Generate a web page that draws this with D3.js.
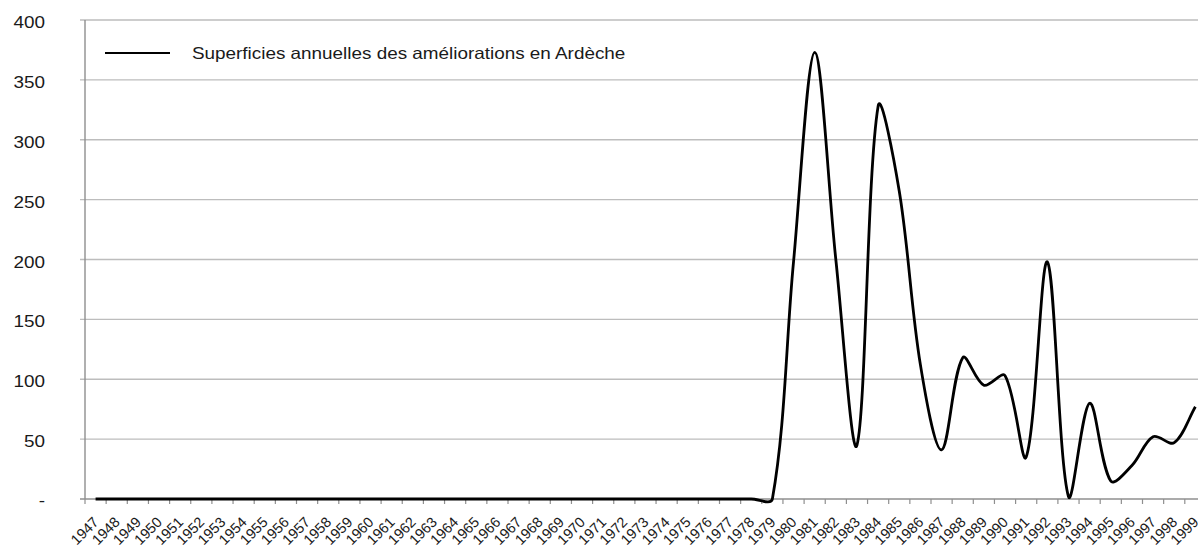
<!DOCTYPE html>
<html>
<head>
<meta charset="utf-8">
<script src="https://cdn.jsdelivr.net/npm/d3@7"></script>
<style>
  html, body { margin: 0; padding: 0; background: #fff; }
  svg { display: block; }
  text { font-family: "Liberation Sans", Arial, sans-serif; fill: #1a1a1a; }
</style>
</head>
<body>
<svg id="chart" width="1198" height="549"></svg>
<script>
// Years on the category axis
const years = d3.range(1947, 2000).map(String);

// Annual surfaces (ha) of improvements in Ardèche, one value per year
const surfaces = [
  0, 0, 0, 0, 0, 0, 0, 0, 0, 0,          // 1947-1956
  0, 0, 0, 0, 0, 0, 0, 0, 0, 0,          // 1957-1966
  0, 0, 0, 0, 0, 0, 0, 0, 0, 0,          // 1967-1976
  0, 0, 0,                               // 1977-1979
  198, 373, 200, 45, 328, 257, 112, 41,  // 1980-1987
  118, 95, 103, 35, 198, 2, 80, 15,      // 1988-1995
  28, 52, 47, 77                         // 1996-1999
];

// Y axis ticks and their labels
const yTicks = [0, 50, 100, 150, 200, 250, 300, 350, 400];
const yTickLabels = ["-", "50", "100", "150", "200", "250", "300", "350", "400"];

const seriesName = "Superficies annuelles des améliorations en Ardèche";

const svg = d3.select("#chart");
const W = 1198;
const plotLeft = 85, plotTop = 20, plotBottom = 499;
const step = 21.15;
const textStretch = 1.145;

const x = d3.scaleBand().domain(years).range([plotLeft, plotLeft + years.length * step]).padding(0);
const y = d3.scaleLinear().domain([0, 400]).range([plotBottom, plotTop]);

// Spreadsheet-style smoothing: Bezier segments whose tangents follow the
// neighbouring points, split in proportion to the adjacent chord lengths.
function SmoothCurve(context) { this._context = context; }
SmoothCurve.prototype = {
  areaStart() { this._line = 0; },
  areaEnd() { this._line = NaN; },
  lineStart() { this._pts = []; },
  point(px, py) { this._pts.push([+px, +py]); },
  lineEnd() {
    const p = this._pts, n = p.length, ctx = this._context;
    if (!n) return;
    ctx.moveTo(p[0][0], p[0][1]);
    if (n === 1) return;
    const dist = (a, b) => Math.hypot(b[0] - a[0], b[1] - a[1]);
    // outgoing / incoming control offsets for each point
    const out = [], inc = [];
    for (let i = 0; i < n; i++) {
      const prev = p[Math.max(0, i - 1)], next = p[Math.min(n - 1, i + 1)];
      const dPrev = dist(prev, p[i]), dNext = dist(p[i], next);
      const tx = next[0] - prev[0], ty = next[1] - prev[1];
      const sum = dPrev + dNext || 1;
      const fo = (dNext / sum) / 3, fi = (dPrev / sum) / 3;
      out.push([p[i][0] + tx * fo, p[i][1] + ty * fo]);
      inc.push([p[i][0] - tx * fi, p[i][1] - ty * fi]);
    }
    for (let i = 0; i < n - 1; i++) {
      ctx.bezierCurveTo(out[i][0], out[i][1], inc[i + 1][0], inc[i + 1][1], p[i + 1][0], p[i + 1][1]);
    }
  }
};
const smoothCurve = context => new SmoothCurve(context);

// Horizontal gridlines (with small outer tick on the left)
svg.append("g").selectAll("line").data(yTicks.filter(d => d > 0)).join("line")
  .attr("x1", plotLeft - 5).attr("x2", W)
  .attr("y1", d => y(d)).attr("y2", d => y(d))
  .attr("stroke", "#bdbdbd").attr("stroke-width", 1.3);

// Vertical value axis
svg.append("line")
  .attr("x1", plotLeft).attr("x2", plotLeft).attr("y1", plotTop).attr("y2", plotBottom)
  .attr("stroke", "#8f8f8f").attr("stroke-width", 1.4);

// Category axis line and ticks
svg.append("line")
  .attr("x1", plotLeft - 5).attr("x2", W).attr("y1", plotBottom).attr("y2", plotBottom)
  .attr("stroke", "#8f8f8f").attr("stroke-width", 1.4);
svg.append("g").selectAll("line").data(years).join("line")
  .attr("x1", d => x(d)).attr("x2", d => x(d))
  .attr("y1", plotBottom).attr("y2", plotBottom + 5)
  .attr("stroke", "#8f8f8f").attr("stroke-width", 1.2);

// Value axis labels
svg.append("g").selectAll("text").data(yTicks).join("text")
  .attr("transform", d => `translate(45,${y(d) + (d === 0 ? 7 : 8)}) scale(${textStretch},1)`)
  .attr("text-anchor", "end")
  .attr("font-size", 16.5)
  .text((d, i) => yTickLabels[i]);

// Category labels, rotated
svg.append("g").selectAll("text").data(years).join("text")
  .attr("transform", d => `translate(${x(d) + x.bandwidth() / 2 + 4},${plotBottom + 24}) rotate(-45)`)
  .attr("text-anchor", "end")
  .attr("font-size", 14.5)
  .text(d => d);

// Smoothed series line
const line = d3.line()
  .x((d, i) => x(years[i]) + x.bandwidth() / 2)
  .y(d => y(d))
  .curve(smoothCurve);

svg.append("path")
  .datum(surfaces)
  .attr("fill", "none")
  .attr("stroke", "#000")
  .attr("stroke-width", 2.8)
  .attr("stroke-linejoin", "round")
  .attr("d", line);

// Legend
svg.append("line")
  .attr("x1", 105).attr("x2", 170).attr("y1", 53).attr("y2", 53)
  .attr("stroke", "#000").attr("stroke-width", 2);
svg.append("text")
  .attr("transform", `translate(192,58.5) scale(${textStretch},1)`)
  .attr("font-size", 16.5)
  .text(seriesName);
</script>
</body>
</html>
